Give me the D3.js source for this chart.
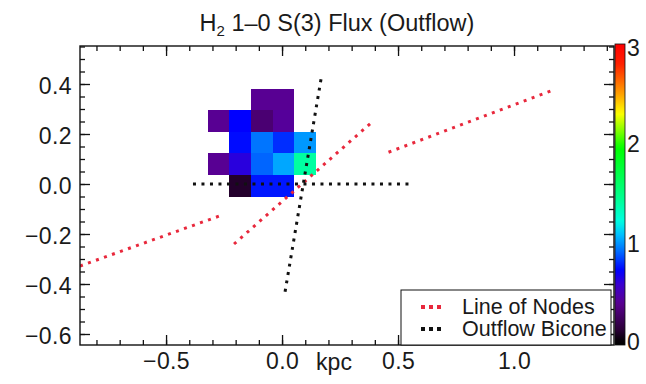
<!DOCTYPE html>
<html lang="en">
<head>
  <meta charset="UTF-8">
  <title>H2 1-0 S(3) Flux (Outflow)</title>
  <style>
    body {
      margin: 0;
      background-color: white;
      overflow: hidden;
    }

    text {
      font-family: "Liberation Sans", Arial, sans-serif;
      fill: #1a1a1a;
    }

    .frame {
      fill: none;
      stroke: #111;
      stroke-width: 1.4px;
    }

    .tick line {
      stroke: #111;
      stroke-width: 1.3px;
    }

    .domain {
      display: none;
    }
  </style>
</head>
<body>
  <script src="https://d3js.org/d3.v7.min.js"></script>
  <script>
    const width = 646;
    const height = 384;

    // flux map: cell centres (kpc) and values, rows top to bottom, null = no data
    const cellX = [-0.274, -0.180, -0.087, 0.0065, 0.099];
    const cellY = [0.337, 0.252, 0.166, 0.080, -0.008];
    const cellW = 0.0934;
    const cellH = 0.086;
    const flux = [
      [null, null, 0.40, 0.40, null],
      [0.40, 0.72, 0.30, 0.42, null],
      [null, 0.74, 0.93, 0.80, 1.00],
      [0.40, 0.62, 0.90, 1.03, 1.40],
      [null, 0.10, 0.76, 0.76, null]
    ];

    // dotted lines, [x1, y1, x2, y2] in kpc
    const nodeLines = [
      [-0.871, -0.328, -0.270, -0.128],
      [0.459, 0.127, 1.169, 0.376],
      [-0.207, -0.240, 0.388, 0.248]
    ];
    const biconeLines = [
      [-0.384, 0.0, 0.565, 0.0],
      [0.013, -0.431, 0.171, 0.436]
    ];

    const xMajor = [-0.5, 0.0, 0.5, 1.0];
    const yMajor = [-0.6, -0.4, -0.2, 0.0, 0.2, 0.4];
    const cbTicks = [0, 1, 2, 3];

    // rainbow colour table
    const cmapStops = [0, 0.12, 0.39, 0.58, 0.72, 0.92, 1.08, 1.22, 1.45, 1.95, 2.3, 2.5, 2.8, 3.0];
    const cmapColors = ["#000000", "#2a0035", "#5a0090", "#3a00d0", "#0000ff", "#0070ff", "#00c0ff",
      "#00ffe0", "#00ff90", "#00ff00", "#ffff00", "#ffa000", "#ff2000", "#ff0000"];

    const color = d3.scaleLinear()
      .domain(cmapStops)
      .range(cmapColors)
      .clamp(true);

    const svg = d3.select("body").append("svg")
      .attr("width", width)
      .attr("height", height);

    const x = d3.scaleLinear().domain([-0.871, 1.431]).range([80, 614]);
    const y = d3.scaleLinear().domain([-0.644, 0.552]).range([345, 46]);

    svg.append("clipPath").attr("id", "plot-clip")
      .append("rect")
      .attr("x", 80).attr("y", 46)
      .attr("width", 534).attr("height", 299);

    // map cells
    const cells = [];
    flux.forEach((row, i) => row.forEach((v, j) => {
      if (v !== null) cells.push({ cx: cellX[j], cy: cellY[i], v: v });
    }));

    svg.append("g")
      .selectAll("rect")
      .data(cells)
      .enter()
      .append("rect")
      .attr("x", d => x(d.cx - cellW / 2))
      .attr("y", d => y(d.cy + cellH / 2))
      .attr("width", d => x(d.cx + cellW / 2) - x(d.cx - cellW / 2))
      .attr("height", d => y(d.cy - cellH / 2) - y(d.cy + cellH / 2))
      .attr("fill", d => color(d.v))
      .attr("shape-rendering", "crispEdges");

    // dotted lines
    const lineG = svg.append("g").attr("clip-path", "url(#plot-clip)");

    function drawLines(data, stroke) {
      lineG.selectAll(null)
        .data(data)
        .enter()
        .append("line")
        .attr("x1", d => x(d[0]))
        .attr("y1", d => y(d[1]))
        .attr("x2", d => x(d[2]))
        .attr("y2", d => y(d[3]))
        .attr("stroke", stroke)
        .attr("stroke-width", 3)
        .attr("stroke-dasharray", "3,5.5");
    }
    drawLines(nodeLines, "#e8283c");
    drawLines(biconeLines, "#111");

    // axes, ticks inward on all four sides
    const fmt = d3.format(".1f");
    const xMinor = d3.range(-8, 15).map(k => k / 10);
    const yMinor = d3.range(-12, 12).map(k => k / 20);

    function addAxis(axisFn, scale, tr, values, size, labels) {
      const ax = axisFn(scale).tickValues(values).tickSizeInner(-size).tickSizeOuter(0);
      if (labels) ax.tickFormat(fmt).tickPadding(labels); else ax.tickFormat("");
      const g = svg.append("g").attr("transform", tr).call(ax);
      g.selectAll("text")
        .style("font-size", "23px")
        .style("letter-spacing", "0.4px")
        .attr("fill", "#1a1a1a");
      return g;
    }

    addAxis(d3.axisBottom, x, "translate(0,345)", xMinor, 5, 0);
    addAxis(d3.axisBottom, x, "translate(0,345)", xMajor, 10, 8);
    addAxis(d3.axisTop, x, "translate(0,46)", xMinor, 5, 0);
    addAxis(d3.axisTop, x, "translate(0,46)", xMajor, 10, 0);
    addAxis(d3.axisLeft, y, "translate(80,0)", yMinor, 5, 0);
    addAxis(d3.axisLeft, y, "translate(80,0)", yMajor, 10, 8)
      .selectAll("text").attr("dy", "0.4em");
    addAxis(d3.axisRight, y, "translate(614,0)", yMinor, 5, 0);
    addAxis(d3.axisRight, y, "translate(614,0)", yMajor, 10, 0);

    svg.append("rect")
      .attr("class", "frame")
      .attr("x", 80).attr("y", 46)
      .attr("width", 534).attr("height", 299);

    svg.append("text")
      .attr("x", 334)
      .attr("y", 370)
      .attr("text-anchor", "middle")
      .style("font-size", "23px")
      .text("kpc");

    // title
    const title = svg.append("text")
      .attr("x", 337)
      .attr("y", 31)
      .attr("text-anchor", "middle")
      .style("font-size", "23.5px");
    title.append("tspan").text("H");
    title.append("tspan").attr("dy", 5).style("font-size", "15px").text("2");
    title.append("tspan").attr("dy", -5).text(" 1\u20130 S(3) Flux (Outflow)");

    // colour bar
    const cb = d3.scaleLinear().domain([-0.03, 3.0]).range([345, 44]);
    const grad = svg.append("defs").append("linearGradient")
      .attr("id", "cb-grad")
      .attr("x1", 0).attr("y1", 1).attr("x2", 0).attr("y2", 0);
    d3.range(0, 61).forEach(k => {
      const v = -0.03 + k * (3.03 / 60);
      grad.append("stop")
        .attr("offset", (k / 60 * 100) + "%")
        .attr("stop-color", color(v));
    });

    svg.append("rect")
      .attr("x", 615).attr("y", 44)
      .attr("width", 10).attr("height", 301)
      .attr("fill", "url(#cb-grad)")
      .attr("stroke", "#111")
      .attr("stroke-width", 0.8);

    svg.append("g")
      .selectAll("text")
      .data(cbTicks)
      .enter()
      .append("text")
      .attr("x", 627)
      .attr("y", d => Math.max(56, Math.min(350, cb(d) + 9)))
      .style("font-size", "23px")
      .text(d => d);

    // legend
    const legend = svg.append("g");
    legend.append("rect")
      .attr("x", 401).attr("y", 290)
      .attr("width", 210).attr("height", 55)
      .attr("fill", "white")
      .attr("stroke", "#111")
      .attr("stroke-width", 1);

    const legendItems = [
      { label: "Line of Nodes", color: "#e8283c", yy: 307 },
      { label: "Outflow Bicone", color: "#111", yy: 329 }
    ];
    legendItems.forEach(d => {
      legend.append("line")
        .attr("x1", 421).attr("x2", 444)
        .attr("y1", d.yy).attr("y2", d.yy)
        .attr("stroke", d.color)
        .attr("stroke-width", 4)
        .attr("stroke-dasharray", "4,4");
      legend.append("text")
        .attr("x", 462)
        .attr("y", d.yy + 7)
        .style("font-size", "21.5px")
        .text(d.label);
    });
  </script>
</body>
</html>
